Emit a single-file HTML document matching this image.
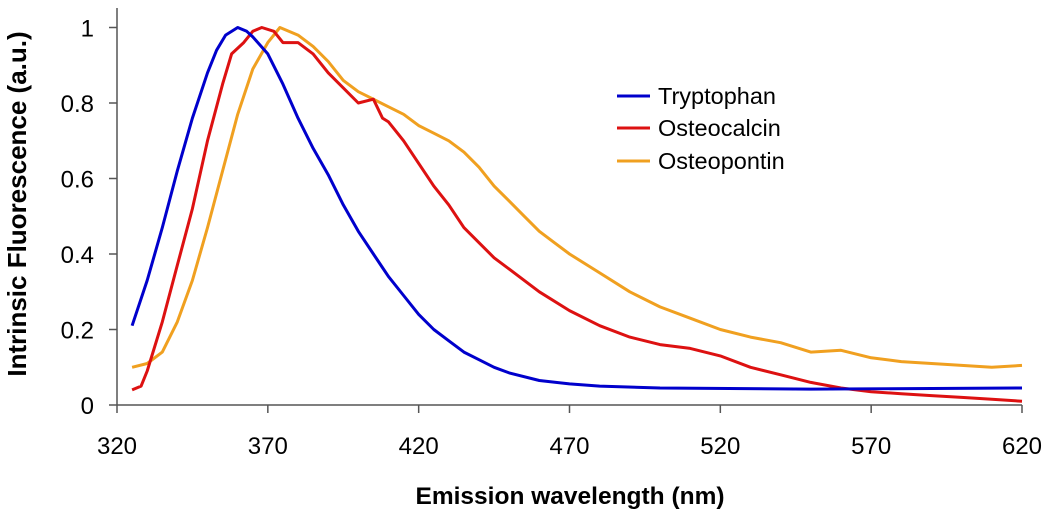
<!DOCTYPE html>
<html><head><meta charset="utf-8"><style>
body{margin:0;background:#fff}
svg text{font-family:"Liberation Sans",Arial,sans-serif}
</style></head><body>
<svg id="chart" width="1050" height="519" xmlns="http://www.w3.org/2000/svg">
<g id="axes"></g>
<g id="series"></g>
<g>
<line x1="617" y1="96" x2="650" y2="96" stroke="#0000cc" stroke-width="3"/>
<text x="658" y="104" font-size="23.5">Tryptophan</text>
<line x1="617" y1="128" x2="650" y2="128" stroke="#dd1111" stroke-width="3"/>
<text x="658" y="136" font-size="23.5">Osteocalcin</text>
<line x1="617" y1="161" x2="650" y2="161" stroke="#f0a020" stroke-width="3"/>
<text x="658" y="169" font-size="23.5">Osteopontin</text>
</g>
<text x="570" y="504" font-size="24.5" font-weight="bold" text-anchor="middle">Emission wavelength (nm)</text>
<text transform="translate(26,204) rotate(-90)" font-size="26" font-weight="bold" text-anchor="middle">Intrinsic Fluorescence (a.u.)</text>
</svg>
<script>
const xTicks=[320,370,420,470,520,570,620];
const yTicks=[0,0.2,0.4,0.6,0.8,1];
const yTickLabels=["0","0.2","0.4","0.6","0.8","1"];
const tryX=[325,330,335,340,345,350,353,356,360,363,365,370,375,380,385,390,395,400,405,410,415,420,425,430,435,440,445,450,460,470,480,500,550,620];
const tryY=[0.21,0.33,0.47,0.62,0.76,0.88,0.94,0.98,1.0,0.99,0.975,0.93,0.85,0.76,0.68,0.61,0.53,0.46,0.40,0.34,0.29,0.24,0.20,0.17,0.14,0.12,0.10,0.085,0.065,0.056,0.05,0.045,0.042,0.045];
const ocX=[325,328,330,335,340,345,350,355,358,362,365,368,372,375,380,385,390,395,400,405,408,410,415,420,425,430,435,440,445,450,460,470,480,490,500,510,520,530,540,550,560,570,580,590,600,610,620];
const ocY=[0.04,0.05,0.09,0.22,0.37,0.52,0.70,0.85,0.93,0.96,0.99,1.0,0.99,0.96,0.96,0.93,0.88,0.84,0.80,0.81,0.76,0.75,0.70,0.64,0.58,0.53,0.47,0.43,0.39,0.36,0.30,0.25,0.21,0.18,0.16,0.15,0.13,0.10,0.08,0.06,0.045,0.035,0.03,0.025,0.02,0.015,0.01];
const opX=[325,330,335,340,345,350,355,360,365,370,374,380,385,390,395,400,405,410,415,420,425,430,435,440,445,450,455,460,465,470,480,490,500,510,520,530,540,550,560,570,580,590,600,610,620];
const opY=[0.10,0.11,0.14,0.22,0.33,0.47,0.62,0.77,0.89,0.96,1.0,0.98,0.95,0.91,0.86,0.83,0.81,0.79,0.77,0.74,0.72,0.70,0.67,0.63,0.58,0.54,0.50,0.46,0.43,0.40,0.35,0.30,0.26,0.23,0.20,0.18,0.165,0.14,0.145,0.125,0.115,0.11,0.105,0.10,0.105];
const NS="http://www.w3.org/2000/svg";
const X0=117,X1=1022,Y0=405,Y1=27.5;
function xs(v){return X0+(v-320)/300*(X1-X0);}
function ys(v){return Y0-v*(Y0-Y1);}
function mk(t,a,p){const e=document.createElementNS(NS,t);for(const k in a)e.setAttribute(k,a[k]);p.appendChild(e);return e;}
const ax=document.getElementById('axes');
const yl=mk('line',{x1:X0,y1:8,x2:X0,y2:Y0,stroke:'#555','stroke-width':1.5},ax);


const xl=mk('line',{x1:X0,y1:Y0,x2:X1,y2:Y0,stroke:'#555','stroke-width':1.5},ax);


xTicks.forEach(v=>{
 const t=mk('line',{x1:xs(v),y1:Y0,x2:xs(v),y2:Y0+8,stroke:'#555','stroke-width':1.5},ax);
 
 
 const l=mk('text',{x:xs(v),y:454,'font-size':24,'text-anchor':'middle'},ax);l.textContent=v;
 
 
});
yTicks.forEach((v,i)=>{
 const t=mk('line',{x1:X0-8,y1:ys(v),x2:X0,y2:ys(v),stroke:'#555','stroke-width':1.5},ax);
 
 
 const l=mk('text',{x:94,y:ys(v)+9,'font-size':24,'text-anchor':'end'},ax);l.textContent=yTickLabels[i];
 
 
});
const sg=document.getElementById('series');
function line(xa,ya,c,name){
 const d=xa.map((x,i)=>(i?'L':'M')+xs(x).toFixed(1)+','+ys(ya[i]).toFixed(1)).join('');
 const p=mk('path',{d:d,fill:'none',stroke:c,'stroke-width':3,'stroke-linejoin':'round'},sg);
 
 
}
line(opX,opY,'#f0a020','osteopontin-line');
line(ocX,ocY,'#dd1111','osteocalcin-line');
line(tryX,tryY,'#0000cc','tryptophan-line');
</script>
</body></html>
